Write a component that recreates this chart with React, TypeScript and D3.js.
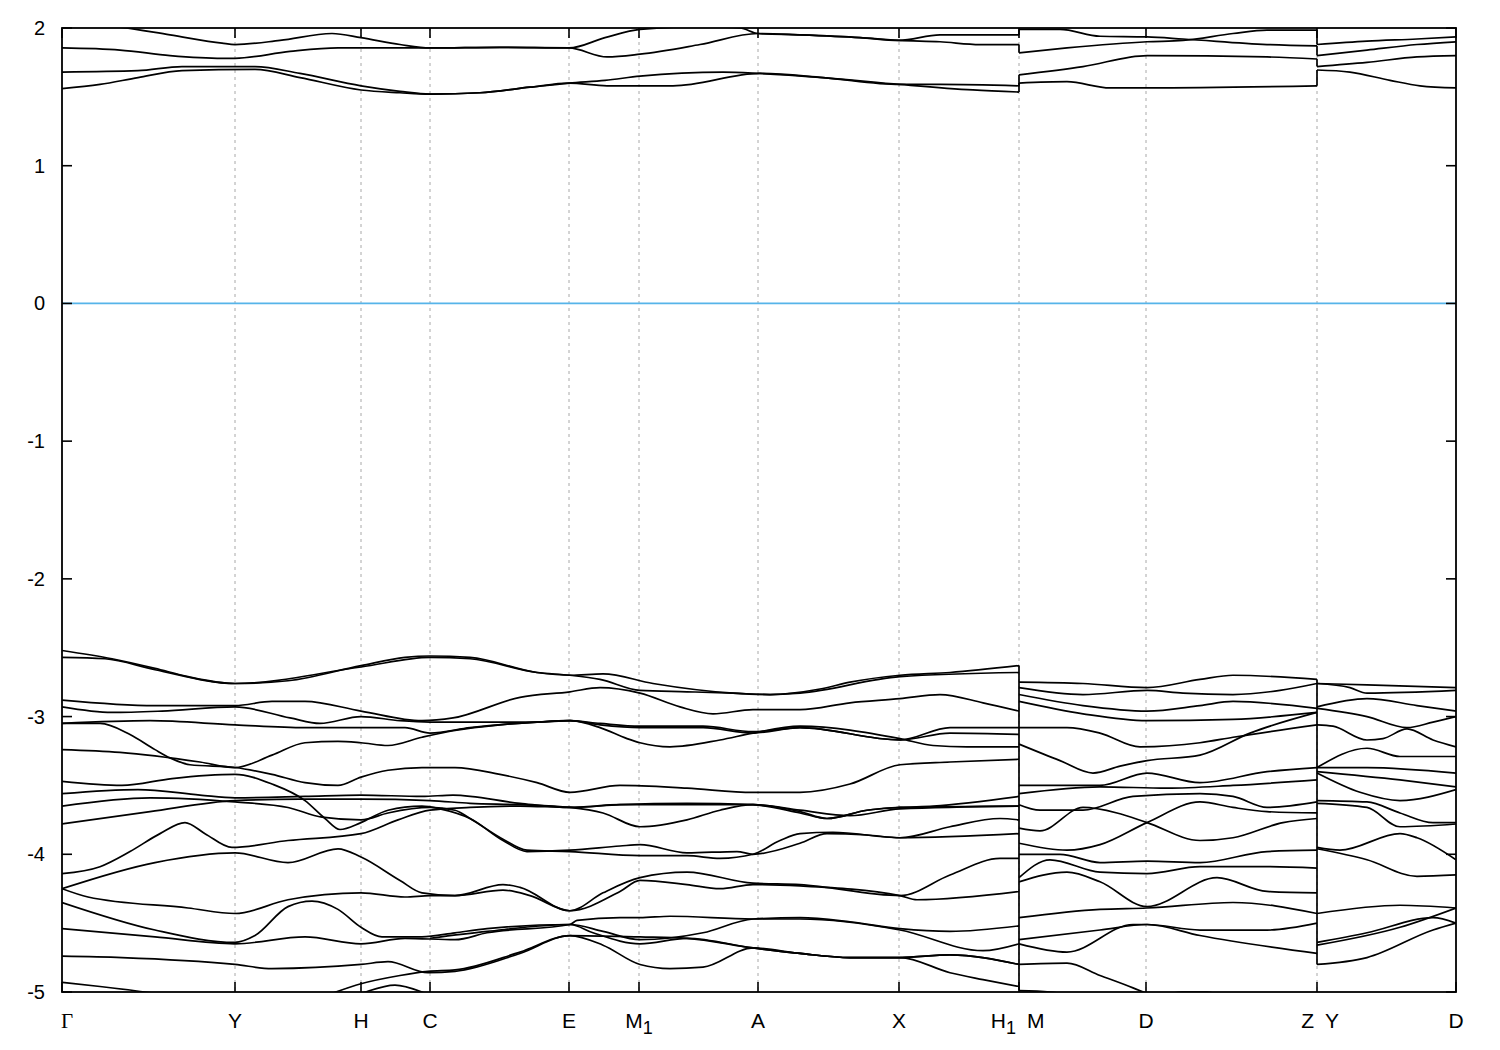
import React from "react";
import * as d3 from "d3";

type Pt = [number, number];

const kTicks = [0, 1.73, 2.99, 3.68, 5.07, 5.77, 6.96, 8.37, 9.57, 10.84, 12.55, 13.94];
const kLabels = ["Γ", "Y", "H", "C", "E", "M_1", "A", "X", "H_1|M", "D", "Z|Y", "D"];
const energyTicks = [-5, -4, -3, -2, -1, 0, 1, 2];
const energyDomain: [number, number] = [-5, 2];
const fermiLevel = 0;

// Path Γ–Y–H–C–E–M1–A–X–H1
const bandsGammaH1: Pt[][] = [
  [[0,2.03],[0.53,2.01],[1.08,1.95],[1.6,1.89],[1.73,1.88],[2.18,1.91],[2.7,1.96],[2.99,1.93],[3.38,1.88],[3.68,1.855],[4.38,1.86],[5.07,1.855],[5.43,1.93],[5.78,1.99],[6.38,2.01],[6.78,2.0],[6.96,1.96],[7.38,1.95],[7.98,1.93],[8.37,1.91],[8.78,1.95],[9.57,1.95]],
  [[0,1.855],[0.58,1.84],[1.08,1.8],[1.6,1.78],[1.73,1.78],[2.28,1.83],[2.76,1.855],[2.99,1.855],[3.68,1.855],[4.38,1.86],[5.07,1.855],[5.45,1.79],[5.78,1.81],[6.38,1.88],[6.96,1.96],[7.38,1.95],[7.98,1.93],[8.37,1.91],[8.78,1.9],[9.18,1.88],[9.57,1.88]],
  [[0,1.68],[0.76,1.69],[1.2,1.72],[1.93,1.72],[2.38,1.67],[2.99,1.58],[3.38,1.54],[3.68,1.52],[4.18,1.53],[4.68,1.57],[5.07,1.6],[5.43,1.62],[5.78,1.65],[6.61,1.68],[6.98,1.67],[7.61,1.64],[8.38,1.59],[8.78,1.59],[9.57,1.58]],
  [[0,1.56],[0.38,1.59],[0.76,1.64],[1.2,1.69],[1.93,1.7],[2.38,1.64],[2.99,1.55],[3.38,1.53],[3.68,1.52],[4.18,1.53],[4.68,1.57],[5.07,1.6],[5.45,1.58],[6.11,1.58],[6.98,1.67],[7.61,1.64],[8.38,1.59],[9.11,1.55],[9.57,1.535]],
  [[0,-2.52],[0.5,-2.58],[0.93,-2.65],[1.26,-2.71],[1.73,-2.76],[2.26,-2.74],[2.99,-2.63],[3.43,-2.57],[3.68,-2.56],[4.08,-2.57],[4.75,-2.68],[5.08,-2.7],[5.41,-2.69],[5.91,-2.76],[6.71,-2.83],[7.08,-2.84],[7.58,-2.8],[7.88,-2.75],[8.38,-2.7],[8.88,-2.68],[9.57,-2.63]],
  [[0,-2.57],[0.43,-2.58],[0.93,-2.66],[1.73,-2.76],[2.99,-2.64],[3.68,-2.57],[4.08,-2.58],[4.75,-2.68],[5.08,-2.7],[5.38,-2.73],[5.78,-2.81],[6.25,-2.82],[6.71,-2.83],[7.08,-2.84],[7.38,-2.83],[8.38,-2.71],[9.57,-2.68]],
  [[0,-2.88],[0.93,-2.92],[1.73,-2.92],[2.1,-2.89],[2.43,-2.89],[2.99,-2.96],[3.6,-3.03],[3.91,-3.01],[4.58,-2.86],[5.08,-2.82],[5.38,-2.79],[5.78,-2.83],[6.18,-2.93],[6.51,-2.98],[6.91,-2.95],[7.38,-2.95],[7.88,-2.9],[8.38,-2.87],[8.78,-2.84],[9.21,-2.9],[9.57,-2.96]],
  [[0,-2.93],[0.5,-2.97],[1.0,-2.96],[1.73,-2.93],[2.28,-3.01],[2.58,-3.05],[2.99,-3.0],[3.38,-3.03],[3.68,-3.04],[4.08,-3.04],[4.75,-3.04],[5.08,-3.03],[5.38,-3.06],[5.78,-3.08],[6.41,-3.08],[6.91,-3.12],[7.38,-3.08],[8.38,-3.17],[8.88,-3.08],[9.57,-3.08]],
  [[0,-3.05],[0.88,-3.03],[1.73,-3.06],[2.43,-3.08],[2.99,-3.08],[3.43,-3.08],[3.68,-3.12],[4.08,-3.08],[4.75,-3.04],[5.08,-3.03],[5.38,-3.08],[5.65,-3.16],[5.78,-3.19],[6.08,-3.22],[6.58,-3.17],[6.91,-3.12],[7.38,-3.07],[8.38,-3.16],[8.71,-3.21],[9.05,-3.22],[9.57,-3.22]],
  [[0,-3.05],[0.38,-3.05],[0.68,-3.13],[0.93,-3.24],[1.08,-3.3],[1.28,-3.35],[1.73,-3.37],[2.1,-3.42],[2.43,-3.48],[2.76,-3.5],[2.99,-3.44],[3.26,-3.39],[3.6,-3.37],[3.93,-3.37],[4.38,-3.42],[4.75,-3.48],[5.08,-3.55],[5.58,-3.5],[6.25,-3.52],[6.91,-3.55],[7.38,-3.55],[7.88,-3.49],[8.38,-3.35],[8.88,-3.33],[9.57,-3.31]],
  [[0,-3.24],[0.58,-3.26],[1.38,-3.33],[1.73,-3.37],[2.1,-3.28],[2.43,-3.19],[2.76,-3.18],[2.99,-3.19],[3.26,-3.21],[3.6,-3.15],[3.93,-3.1],[4.38,-3.06],[4.75,-3.04],[5.08,-3.03],[5.38,-3.05],[5.78,-3.07],[6.41,-3.07],[6.91,-3.11],[7.38,-3.08],[8.38,-3.17],[8.88,-3.12],[9.57,-3.13]],
  [[0,-3.47],[0.6,-3.5],[1.1,-3.45],[1.73,-3.42],[2.1,-3.49],[2.43,-3.61],[2.63,-3.74],[2.78,-3.82],[2.99,-3.77],[3.26,-3.68],[3.6,-3.65],[3.78,-3.67],[4.08,-3.74],[4.41,-3.9],[4.65,-3.98],[5.08,-3.97],[5.58,-3.94],[5.78,-3.93],[6.25,-3.99],[6.75,-3.98],[6.91,-4.0],[7.38,-3.92],[7.65,-3.85],[8.05,-3.86],[8.38,-3.88],[9.57,-3.85]],
  [[0,-3.56],[0.76,-3.53],[1.38,-3.57],[1.73,-3.59],[2.43,-3.58],[2.99,-3.57],[3.6,-3.58],[3.91,-3.57],[4.58,-3.63],[5.08,-3.66],[5.58,-3.64],[6.25,-3.63],[6.91,-3.64],[7.38,-3.7],[7.65,-3.74],[8.05,-3.68],[8.38,-3.66],[9.57,-3.65]],
  [[0,-3.65],[0.88,-3.59],[1.73,-3.62],[2.26,-3.66],[2.6,-3.73],[2.99,-3.75],[3.26,-3.7],[3.68,-3.66],[3.93,-3.68],[4.08,-3.74],[4.41,-3.89],[4.65,-3.97],[5.08,-3.98],[5.78,-4.01],[6.25,-4.01],[6.58,-4.03],[6.91,-4.0],[7.18,-3.9],[7.38,-3.85],[7.71,-3.84],[8.38,-3.88],[8.88,-3.8],[9.38,-3.74],[9.57,-3.75]],
  [[0,-3.78],[0.88,-3.69],[1.73,-3.61],[2.38,-3.6],[2.99,-3.6],[3.68,-3.61],[4.08,-3.63],[4.58,-3.64],[5.08,-3.66],[5.41,-3.7],[5.78,-3.8],[6.25,-3.75],[6.58,-3.68],[6.91,-3.64],[7.38,-3.69],[7.65,-3.74],[8.05,-3.68],[8.38,-3.66],[8.71,-3.65],[9.57,-3.58]],
  [[0,-4.14],[0.38,-4.09],[0.68,-3.98],[0.98,-3.85],[1.23,-3.77],[1.43,-3.85],[1.7,-3.95],[2.26,-3.9],[2.99,-3.85],[3.36,-3.75],[3.68,-3.68],[4.08,-3.66],[4.58,-3.65],[5.08,-3.66],[5.58,-3.64],[6.25,-3.64],[6.91,-3.64],[7.38,-3.68],[7.88,-3.72],[8.38,-3.67],[9.57,-3.65]],
  [[0,-4.25],[0.93,-4.06],[1.73,-3.99],[2.26,-4.06],[2.76,-3.96],[2.99,-4.02],[3.38,-4.19],[3.6,-4.28],[3.93,-4.3],[4.41,-4.22],[4.58,-4.24],[5.08,-4.41],[5.41,-4.28],[5.78,-4.17],[6.25,-4.13],[6.91,-4.21],[7.38,-4.22],[8.38,-4.3],[8.88,-4.15],[9.38,-4.03],[9.57,-4.03]],
  [[0,-4.25],[0.26,-4.31],[1.26,-4.39],[1.73,-4.43],[2.26,-4.33],[2.99,-4.28],[3.43,-4.31],[3.68,-4.3],[3.93,-4.3],[4.41,-4.26],[4.68,-4.3],[5.08,-4.41],[5.58,-4.27],[5.78,-4.19],[6.25,-4.22],[6.58,-4.25],[6.91,-4.22],[7.38,-4.23],[8.38,-4.3],[8.55,-4.33],[9.57,-4.27]],
  [[0,-4.35],[0.93,-4.55],[1.73,-4.64],[1.93,-4.59],[2.26,-4.38],[2.5,-4.34],[2.76,-4.4],[2.99,-4.53],[3.2,-4.6],[3.6,-4.6],[3.93,-4.57],[4.25,-4.54],[5.08,-4.51],[5.41,-4.56],[5.78,-4.62],[6.41,-4.57],[6.91,-4.47],[7.38,-4.46],[7.88,-4.49],[8.38,-4.54],[8.88,-4.56],[9.57,-4.52]],
  [[0,-4.54],[0.93,-4.6],[1.73,-4.65],[2.43,-4.6],[2.99,-4.65],[3.43,-4.61],[3.93,-4.62],[4.25,-4.57],[5.08,-4.51],[5.15,-4.48],[5.58,-4.46],[5.78,-4.46],[6.08,-4.45],[6.91,-4.47],[7.38,-4.47],[8.38,-4.55],[9.21,-4.7],[9.57,-4.65]],
  [[0,-4.74],[0.6,-4.75],[1.73,-4.8],[2.1,-4.83],[2.99,-4.8],[3.26,-4.78],[3.66,-4.86],[3.93,-4.85],[4.58,-4.72],[5.08,-4.59],[5.41,-4.66],[5.78,-4.8],[6.08,-4.83],[6.41,-4.82],[6.91,-4.68],[7.38,-4.72],[7.88,-4.75],[8.38,-4.75],[8.88,-4.73],[9.57,-4.8]],
  [[2.38,-5.1],[2.7,-5.01],[2.99,-4.94],[3.38,-4.88],[3.66,-4.85],[3.93,-4.84],[4.58,-4.71],[5.08,-4.59],[5.78,-4.6],[6.25,-4.61],[6.91,-4.68],[7.38,-4.72],[7.88,-4.75],[8.38,-4.75],[8.88,-4.86],[9.21,-4.91],[9.57,-4.96]],
  [[3.68,-4.61],[4.25,-4.56],[5.08,-4.51],[5.31,-4.57],[5.78,-4.65],[6.25,-4.61],[6.91,-4.68],[7.38,-4.72],[7.88,-4.75],[8.38,-4.75],[8.88,-4.73],[9.57,-4.8]],
  [[0,-4.93],[0.38,-4.96],[0.93,-5.01],[1.38,-5.06],[2.0,-5.15]],
  [[2.78,-5.06],[2.99,-5.01],[3.33,-4.95],[3.6,-5.0],[3.78,-5.06]],
];

// Path M–D–Z
const bandsMZ: Pt[][] = [
  [[9.57,1.99],[9.98,1.99],[10.38,1.94],[10.85,1.935],[11.21,1.92],[12.05,1.88],[12.55,1.87]],
  [[9.57,1.82],[10.05,1.855],[10.85,1.9],[11.21,1.91],[11.71,1.96],[12.05,1.985],[12.55,1.985]],
  [[9.57,1.66],[10.21,1.72],[10.85,1.8],[12.05,1.79],[12.55,1.775]],
  [[9.57,1.6],[10.05,1.61],[10.48,1.565],[10.85,1.565],[12.55,1.58]],
  [[9.57,-2.75],[10.21,-2.76],[10.85,-2.79],[11.38,-2.73],[11.71,-2.7],[12.55,-2.73]],
  [[9.57,-2.79],[10.21,-2.84],[10.85,-2.81],[11.21,-2.83],[11.71,-2.84],[12.18,-2.81],[12.55,-2.76]],
  [[9.57,-2.84],[10.21,-2.92],[10.85,-2.96],[11.38,-2.92],[11.71,-2.89],[12.55,-2.94]],
  [[9.57,-2.89],[10.21,-2.98],[10.85,-3.03],[11.71,-3.02],[12.55,-2.97]],
  [[9.57,-3.08],[10.05,-3.08],[10.38,-3.12],[10.78,-3.22],[11.38,-3.19],[11.71,-3.15],[12.55,-3.06]],
  [[9.57,-3.2],[9.98,-3.32],[10.31,-3.41],[10.58,-3.36],[10.85,-3.32],[11.38,-3.28],[11.88,-3.12],[12.55,-2.97]],
  [[9.57,-3.5],[10.38,-3.5],[10.85,-3.41],[11.38,-3.48],[12.05,-3.4],[12.55,-3.37]],
  [[9.57,-3.56],[10.38,-3.51],[11.05,-3.52],[11.71,-3.5],[12.55,-3.46]],
  [[9.57,-3.64],[9.78,-3.68],[10.21,-3.68],[10.71,-3.58],[11.38,-3.56],[11.71,-3.58],[12.05,-3.66],[12.55,-3.62]],
  [[9.57,-3.81],[9.78,-3.83],[10.21,-3.66],[10.55,-3.7],[10.85,-3.77],[11.38,-3.9],[11.71,-3.88],[12.21,-3.77],[12.55,-3.74]],
  [[9.57,-3.92],[10.05,-3.97],[10.38,-3.93],[10.85,-3.77],[11.38,-3.62],[11.71,-3.66],[12.05,-3.69],[12.55,-3.7]],
  [[9.57,-4.0],[9.98,-4.0],[10.38,-4.06],[10.85,-4.05],[11.38,-4.06],[12.05,-3.98],[12.55,-3.97]],
  [[9.57,-4.17],[9.88,-4.04],[10.38,-4.13],[10.85,-4.14],[11.38,-4.09],[12.05,-4.09],[12.55,-4.1]],
  [[9.57,-4.2],[10.05,-4.13],[10.38,-4.2],[10.85,-4.38],[11.55,-4.17],[12.05,-4.27],[12.55,-4.28]],
  [[9.57,-4.46],[10.38,-4.4],[10.85,-4.39],[11.71,-4.35],[12.55,-4.43]],
  [[9.57,-4.62],[10.38,-4.55],[10.85,-4.51],[11.38,-4.55],[12.05,-4.55],[12.55,-4.5]],
  [[9.57,-4.65],[10.05,-4.71],[10.71,-4.51],[10.85,-4.51],[11.38,-4.59],[12.55,-4.72]],
  [[9.57,-4.8],[10.05,-4.79],[10.38,-4.88],[10.71,-4.97],[10.88,-5.02],[11.08,-5.07]],
  [[9.57,-4.99],[9.88,-5.0],[10.13,-5.03]],
  [[11.0,-5.03],[11.2,-5.0],[11.45,-5.0],[11.6,-5.03]],
];

// Path Y–D
const bandsYD: Pt[][] = [
  [[12.55,1.88],[13.05,1.905],[13.55,1.92],[13.94,1.935]],
  [[12.55,1.8],[13.05,1.84],[13.55,1.88],[13.94,1.9]],
  [[12.55,1.72],[13.05,1.75],[13.55,1.79],[13.94,1.8]],
  [[12.55,1.695],[12.88,1.68],[13.28,1.62],[13.58,1.58],[13.94,1.565]],
  [[12.55,-2.76],[13.05,-2.77],[13.94,-2.79]],
  [[12.55,-2.76],[12.88,-2.79],[13.05,-2.83],[13.94,-2.81]],
  [[12.55,-2.93],[13.05,-2.87],[13.55,-2.92],[13.94,-2.96]],
  [[12.55,-2.94],[13.05,-3.0],[13.45,-3.08],[13.71,-3.04],[13.94,-3.0]],
  [[12.55,-3.06],[12.71,-3.07],[13.05,-3.17],[13.21,-3.16],[13.45,-3.09],[13.71,-3.17],[13.94,-3.22]],
  [[12.55,-3.37],[13.05,-3.23],[13.38,-3.29],[13.94,-3.29]],
  [[12.55,-3.37],[13.05,-3.37],[13.94,-3.41]],
  [[12.55,-3.4],[13.38,-3.46],[13.94,-3.51]],
  [[12.55,-3.41],[12.98,-3.55],[13.38,-3.61],[13.94,-3.53]],
  [[12.55,-3.61],[13.05,-3.62],[13.38,-3.7],[13.71,-3.77],[13.94,-3.77]],
  [[12.55,-3.63],[13.05,-3.66],[13.38,-3.8],[13.94,-3.78]],
  [[12.55,-3.95],[12.78,-3.97],[13.38,-3.85],[13.55,-3.88],[13.94,-4.04]],
  [[12.55,-3.96],[13.05,-4.04],[13.55,-4.16],[13.94,-4.15]],
  [[12.55,-4.43],[13.38,-4.37],[13.94,-4.39]],
  [[12.55,-4.64],[13.05,-4.57],[13.71,-4.46],[13.94,-4.5]],
  [[12.55,-4.66],[13.38,-4.53],[13.94,-4.39]],
  [[12.55,-4.8],[13.05,-4.75],[13.71,-4.55],[13.94,-4.5]],
];

const pathSegments = [bandsGammaH1, bandsMZ, bandsYD];
const pathBreaks = [9.57, 12.55];

const FONT = "'Liberation Sans', Arial, Helvetica, sans-serif";

function Label({ text, x, y, anchor }: { text: string; x: number; y: number; anchor: string }) {
  const [base, sub] = text.split("_");
  const isGreek = base === "Γ";
  return (
    <text x={x} y={y} textAnchor={anchor as any} fontSize={21}
      fontFamily={isGreek ? "'Liberation Serif', 'Times New Roman', serif" : FONT} fill="#000">
      {base}
      {sub ? <tspan dy={6} fontSize={18}>{sub}</tspan> : null}
    </text>
  );
}

export default function App() {
  const left = 62, right = 1456, top = 28, bottom = 992;
  const x = d3.scaleLinear().domain([kTicks[0], kTicks[kTicks.length - 1]]).range([left, right]);
  const y = d3.scaleLinear().domain(energyDomain).range([bottom, top]);
  const line = d3.line<Pt>().x(d => x(d[0])).y(d => y(d[1])).curve(d3.curveMonotoneX);

  const connectors: { k: number; e1: number; e2: number }[] = [];
  pathBreaks.forEach((kb, i) => {
    const ends = pathSegments[i].filter(b => Math.abs(b[b.length - 1][0] - kb) < 1e-6).map(b => b[b.length - 1][1]);
    const starts = pathSegments[i + 1].filter(b => Math.abs(b[0][0] - kb) < 1e-6).map(b => b[0][1]);
    const topEnds = ends.filter(v => v > fermiLevel).sort((a, b) => b - a);
    const topStarts = starts.filter(v => v > fermiLevel).sort((a, b) => b - a);
    for (let j = 0; j < Math.min(topEnds.length, topStarts.length); j++) {
      connectors.push({ k: kb, e1: topEnds[j], e2: topStarts[j] });
    }
    const low = [...ends, ...starts].filter(v => v < fermiLevel);
    connectors.push({ k: kb, e1: d3.max(low)!, e2: d3.min(low)! });
  });

  const tickLen = 10;

  return (
    <svg width={1500} height={1050} style={{ position: "absolute", left: 0, top: 0, background: "#fff" }}>
      <defs>
        <clipPath id="plotClip">
          <rect x={left} y={top} width={right - left} height={bottom - top} />
        </clipPath>
      </defs>
      <rect x={0} y={0} width={1500} height={1050} fill="#fff" />
      {kTicks.slice(1, -1).map((k, i) => (
        <line key={"g" + i} x1={x(k)} x2={x(k)} y1={top} y2={bottom} stroke="#a8a8a8" strokeWidth={1} strokeDasharray="3,4" />
      ))}
      <line x1={left} x2={right} y1={y(fermiLevel)} y2={y(fermiLevel)} stroke="#56b4e9" strokeWidth={1.8} />
      <g clipPath="url(#plotClip)" fill="none" stroke="#000" strokeWidth={1.7}>
        {pathSegments.map((seg, si) =>
          seg.map((band, bi) => <path key={si + "-" + bi} d={line(band) || ""} />)
        )}
        {connectors.map((c, i) => (
          <line key={"c" + i} x1={x(c.k)} x2={x(c.k)} y1={y(c.e1)} y2={y(c.e2)} />
        ))}
      </g>
      <rect x={left} y={top} width={right - left} height={bottom - top} fill="none" stroke="#000" strokeWidth={1.8} />
      {energyTicks.map((e, i) => (
        <g key={"yt" + i}>
          <line x1={left} x2={left + tickLen} y1={y(e)} y2={y(e)} stroke="#000" strokeWidth={1.6} />
          <line x1={right} x2={right - tickLen} y1={y(e)} y2={y(e)} stroke="#000" strokeWidth={1.6} />
          <text x={45} y={y(e) + 7} textAnchor="end" fontSize={20} fontFamily={FONT}>{e}</text>
        </g>
      ))}
      {kTicks.map((k, i) => (
        <g key={"xt" + i}>
          <line x1={x(k)} x2={x(k)} y1={bottom} y2={bottom - tickLen} stroke="#000" strokeWidth={1.6} />
          <line x1={x(k)} x2={x(k)} y1={top} y2={top + tickLen} stroke="#000" strokeWidth={1.6} />
        </g>
      ))}
      {kTicks.map((k, i) => {
        const lbl = kLabels[i];
        const xp = x(k);
        const yp = 1028;
        if (lbl.includes("|")) {
          const [a, b] = lbl.split("|");
          return (
            <g key={"xl" + i}>
              <Label text={a} x={xp - 3} y={yp} anchor="end" />
              <Label text={b} x={xp + 8} y={yp} anchor="start" />
            </g>
          );
        }
        const off = i === 0 ? 5 : 0;
        return <Label key={"xl" + i} text={lbl} x={xp + off} y={yp} anchor="middle" />;
      })}
    </svg>
  );
}
